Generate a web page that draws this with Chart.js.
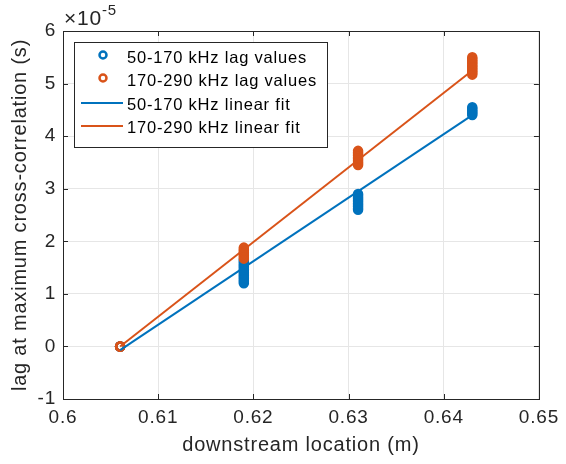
<!DOCTYPE html>
<html>
<head>
<meta charset="utf-8">
<script src="https://cdn.jsdelivr.net/npm/chart.js@4"></script>
<style>
  html, body { margin: 0; padding: 0; background: #fff; }
  #wrap { width: 566px; height: 464px; }
</style>
</head>
<body>
<div id="wrap"><canvas id="lagChart" width="566" height="464"></canvas></div>
<script>
// lag values in units of 1e-5 s
const locations = [0.606, 0.619, 0.631, 0.643];
const lag50 = [
    [0, 0, 0, 0],
    [1.2, 1.23, 1.26, 1.29, 1.32, 1.35, 1.38, 1.41, 1.44, 1.47, 1.5, 1.53, 1.56, 1.59, 1.62, 1.65],
    [2.6, 2.63, 2.66, 2.69, 2.72, 2.75, 2.78, 2.81, 2.84, 2.87, 2.9],
    [4.4, 4.43, 4.46, 4.49, 4.52, 4.55]
];
const lag170 = [
    [0, 0, 0, 0],
    [1.67, 1.7, 1.73, 1.76, 1.79, 1.82, 1.85, 1.88],
    [3.45, 3.48, 3.51, 3.54, 3.57, 3.6, 3.63, 3.66, 3.69, 3.72],
    [5.17, 5.2, 5.23, 5.26, 5.29, 5.32, 5.35, 5.38, 5.41, 5.44, 5.47, 5.5]
];
const fitX = [0.606, 0.643];
const fit50 = [-0.07, 4.4];
const fit170 = [0.0, 5.25];
const xTicks = [0.6, 0.61, 0.62, 0.63, 0.64, 0.65];
const yTicks = [-1, 0, 1, 2, 3, 4, 5, 6];
const legendLabels = ['50-170 kHz lag values', '170-290 kHz lag values', '50-170 kHz linear fit', '170-290 kHz linear fit'];

const BLUE = '#0072BD';
const ORANGE = '#D95319';
const FONT = '"Liberation Sans", Arial, sans-serif';
const SPACING = '0.8px';

function toPoints(groups) {
    const pts = [];
    groups.forEach((vals, i) => vals.forEach(v => pts.push({ x: locations[i], y: v })));
    return pts;
}

const spacingPlugin = {
    id: 'spacingPlugin',
    beforeLayout(chart) { chart.ctx.letterSpacing = SPACING; },
    beforeDraw(chart) { chart.ctx.letterSpacing = SPACING; }
};

const boxPlugin = {
    id: 'boxPlugin',
    afterDraw(chart) {
        const ctx = chart.ctx;
        const a = chart.chartArea;
        const xs = chart.scales.x, ys = chart.scales.y;
        ctx.save();
        ctx.letterSpacing = SPACING;
        // axes box
        ctx.strokeStyle = '#262626';
        ctx.lineWidth = 1;
        ctx.strokeRect(Math.round(a.left) + 0.5, Math.round(a.top) + 0.5, Math.round(a.right - a.left), Math.round(a.bottom - a.top));
        // inward ticks
        ctx.beginPath();
        xTicks.forEach(t => {
            const px = Math.round(xs.getPixelForValue(t)) + 0.5;
            ctx.moveTo(px, a.bottom); ctx.lineTo(px, a.bottom - 5);
            ctx.moveTo(px, a.top); ctx.lineTo(px, a.top + 5);
        });
        yTicks.forEach(t => {
            const py = Math.round(ys.getPixelForValue(t)) + 0.5;
            ctx.moveTo(a.left, py); ctx.lineTo(a.left + 5, py);
            ctx.moveTo(a.right, py); ctx.lineTo(a.right - 5, py);
        });
        ctx.stroke();

        // exponent label
        ctx.fillStyle = '#262626';
        ctx.textBaseline = 'alphabetic';
        ctx.textAlign = 'left';
        ctx.font = '21px ' + FONT;
        ctx.fillText('\u00d710', a.left + 1, a.top - 6);
        const w = ctx.measureText('\u00d710').width;
        ctx.font = '15px ' + FONT;
        ctx.fillText('-5', a.left + 1 + w, a.top - 16);

        // legend
        const lx = 74, ly = 42, lw = 253, lh = 105;
        ctx.fillStyle = '#fff';
        ctx.fillRect(lx, ly, lw, lh);
        ctx.strokeStyle = '#262626';
        ctx.strokeRect(lx + 0.5, ly + 0.5, lw, lh);
        const rows = [58, 81, 105, 128];
        const cols = [BLUE, ORANGE, BLUE, ORANGE];
        ctx.font = '16.5px ' + FONT;
        ctx.textBaseline = 'middle';
        rows.forEach((ry, i) => {
            ctx.strokeStyle = cols[i];
            if (i < 2) {
                ctx.lineWidth = 2.5;
                ctx.beginPath();
                ctx.arc(103, ry - 3, 3.5, 0, Math.PI * 2);
                ctx.stroke();
            } else {
                ctx.lineWidth = 2;
                ctx.beginPath();
                ctx.moveTo(81, ry - 2); ctx.lineTo(123, ry - 2);
                ctx.stroke();
            }
            ctx.fillStyle = '#000';
            ctx.fillText(legendLabels[i], 127, ry);
        });
        ctx.restore();
    }
};

new Chart(document.getElementById('lagChart'), {
    type: 'scatter',
    data: {
        datasets: [
            {
                label: legendLabels[0],
                data: toPoints(lag50),
                borderColor: BLUE,
                backgroundColor: 'rgba(0,0,0,0)',
                pointRadius: 4,
                borderWidth: 2.5,
                order: 4
            },
            {
                label: legendLabels[1],
                data: toPoints(lag170),
                borderColor: ORANGE,
                backgroundColor: 'rgba(0,0,0,0)',
                pointRadius: 4,
                borderWidth: 2.5,
                order: 3
            },
            {
                label: legendLabels[2],
                type: 'line',
                data: fitX.map((x, i) => ({ x: x, y: fit50[i] })),
                borderColor: BLUE,
                borderWidth: 2,
                pointRadius: 0,
                fill: false,
                order: 2
            },
            {
                label: legendLabels[3],
                type: 'line',
                data: fitX.map((x, i) => ({ x: x, y: fit170[i] })),
                borderColor: ORANGE,
                borderWidth: 2,
                pointRadius: 0,
                fill: false,
                order: 1
            }
        ]
    },
    options: {
        responsive: false,
        animation: false,
        layout: { padding: { top: 31, right: 15, left: 0, bottom: 0 } },
        plugins: {
            legend: { display: false },
            tooltip: { enabled: false }
        },
        scales: {
            x: {
                type: 'linear',
                min: 0.6,
                max: 0.65,
                afterBuildTicks: s => { s.ticks = xTicks.map(v => ({ value: v })); },
                afterFit: s => { s.height = 65; },
                grid: { color: '#e6e6e6', drawTicks: false },
                border: { display: false },
                ticks: {
                    padding: 7,
                    color: '#262626',
                    font: { family: FONT, size: 19 },
                    maxRotation: 0,
                    callback: v => String(Number(v.toFixed(2)))
                },
                title: {
                    display: true,
                    text: 'downstream location (m)',
                    color: '#262626',
                    font: { family: FONT, size: 20 },
                    padding: { top: 0, bottom: 7 }
                }
            },
            y: {
                type: 'linear',
                min: -1,
                max: 6,
                afterBuildTicks: s => { s.ticks = yTicks.map(v => ({ value: v })); },
                afterFit: s => { s.width = 63; },
                grid: { color: '#e6e6e6', drawTicks: false },
                border: { display: false },
                ticks: {
                    padding: 7,
                    color: '#262626',
                    font: { family: FONT, size: 19 }
                },
                title: {
                    display: true,
                    text: 'lag at maximum cross-correlation (s)',
                    color: '#262626',
                    font: { family: FONT, size: 20 },
                    padding: { top: 8, bottom: 0 }
                }
            }
        }
    },
    plugins: [spacingPlugin, boxPlugin]
});
</script>
</body>
</html>
